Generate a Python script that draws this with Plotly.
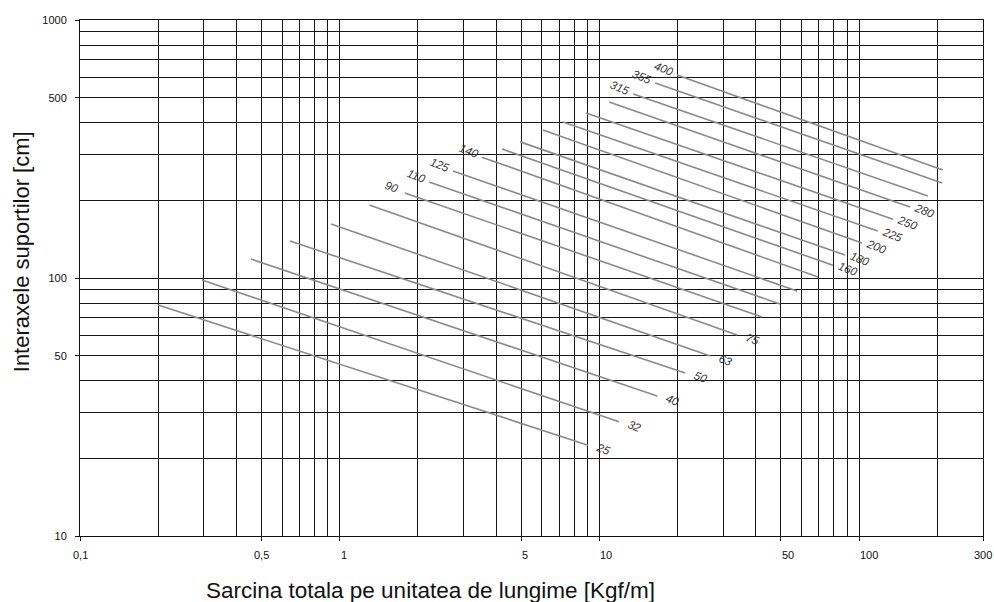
import math
import plotly.graph_objects as go

# pipe diameters (curve labels)
diameters = [25, 32, 40, 50, 63, 75, 90, 110, 125, 140, 160, 180, 200, 225, 250, 280, 315, 355, 400]

# start / end points of every curve (load Kgf/m, support spacing cm)
x_start = [0.200, 0.295, 0.455, 0.644, 0.926, 1.30, 1.78, 2.21, 2.73, 3.53,
           4.22, 4.95, 6.06, 7.24, 8.88, 10.9, 13.5, 16.4, 19.9]
y_start = [78.6, 98.2, 118.5, 139, 162, 192, 213.6, 235.5, 260, 294,
           316, 337, 375, 402, 436, 481, 517, 570, 612]
x_end = [9.04, 11.9, 16.7, 21.4, 26.7, 33.9, 42.3, 49.6, 57.7, 69.5,
         79.3, 88.2, 102.6, 118, 135, 157, 184, 209, 210]
y_end = [22.5, 27.7, 34.9, 42.8, 49.9, 60.1, 70.6, 79.3, 89.0, 100.9,
         112, 122.8, 136.7, 152, 169, 188.5, 208, 233.5, 262]

# curves whose label sits at the left end
left_labeled = [90, 110, 125, 140, 315, 355, 400]

x_major = [0.1, 0.5, 1, 5, 10, 50, 100, 300]
x_major_text = ["0,1", "0,5", "1", "5", "10", "50", "100", "300"]
x_minor = [0.2, 0.3, 0.4, 0.6, 0.7, 0.8, 0.9, 2, 3, 4, 6, 7, 8, 9,
           20, 30, 40, 60, 70, 80, 90, 200]
y_major = [10, 50, 100, 500, 1000]
y_major_text = ["10", "50", "100", "500", "1000"]
y_minor = [20, 30, 40, 60, 70, 80, 90, 200, 300, 400, 600, 700, 800, 900]

FONT = "Liberation Sans, Arial, sans-serif"
GRID = "#161616"

fig = go.Figure()

for d, x0, y0, x1, y1 in zip(diameters, x_start, y_start, x_end, y_end):
    fig.add_trace(go.Scatter(
        x=[x0, x1], y=[y0, y1], mode="lines",
        line=dict(color="#8a8a8a", width=1.6),
        showlegend=False, hoverinfo="skip"
    ))
    if d in left_labeled:
        ax, ay, xs, ys = x0, y0, -13, 6
    else:
        ax, ay, xs, ys = x1, y1, 15, -4
    fig.add_annotation(
        x=math.log10(ax), y=math.log10(ay), text=str(d), showarrow=False,
        xshift=xs, yshift=ys, textangle=22,
        font=dict(family=FONT, size=11.5, color="#333333", style="italic")
    )

axis_common = dict(
    type="log", showline=True, mirror=True, linecolor="#111111", linewidth=1,
    showgrid=True, gridcolor=GRID, gridwidth=1, zeroline=False, automargin=False,
    ticks="outside", ticklen=4, tickcolor="#111111", tickmode="array",
    tickfont=dict(family=FONT, size=11, color="#111111"),
)

fig.update_xaxes(
    range=[-1, math.log10(300)], tickvals=x_major, showticklabels=False,
    minor=dict(tickvals=x_minor, showgrid=True, gridcolor=GRID, gridwidth=1, ticks=""),
    **axis_common
)
fig.update_yaxes(
    range=[1, 3], tickvals=y_major, ticktext=y_major_text,
    ticklabelstandoff=6,
    minor=dict(tickvals=y_minor, showgrid=True, gridcolor=GRID, gridwidth=1, ticks=""),
    **axis_common
)

# x tick labels: decimals sit centred on their line, whole numbers start at it
for v, t in zip(x_major, x_major_text):
    fig.add_annotation(
        x=math.log10(v), y=0, xref="x", yref="paper", text=t, showarrow=False,
        xanchor="center" if ("," in t or v == 300) else "left",
        xshift=0 if ("," in t or v == 300) else -1,
        yanchor="top", yshift=-11,
        font=dict(family=FONT, size=11, color="#111111")
    )

fig.add_annotation(
    xref="paper", yref="paper", x=0.3876, y=-0.105,
    text="Sarcina totala pe unitatea de lungime [Kgf/m]", showarrow=False,
    xanchor="center", yanchor="middle",
    font=dict(family=FONT, size=22.5, color="#111111")
)
fig.add_annotation(
    xref="paper", yref="paper", x=-0.0653, y=0.55,
    text="Interaxele suportilor [cm]", showarrow=False, textangle=-90,
    xanchor="center", yanchor="middle",
    font=dict(family=FONT, size=22, color="#111111")
)

fig.update_layout(
    width=994, height=602,
    margin=dict(l=80, r=11, t=20, b=66),
    paper_bgcolor="white", plot_bgcolor="white",
    showlegend=False
)

# drop the default 8px page margin so the figure fills the window exactly
fig.write_html("out.html", config={"displayModeBar": False},
               post_script="document.body.style.margin='0';")
